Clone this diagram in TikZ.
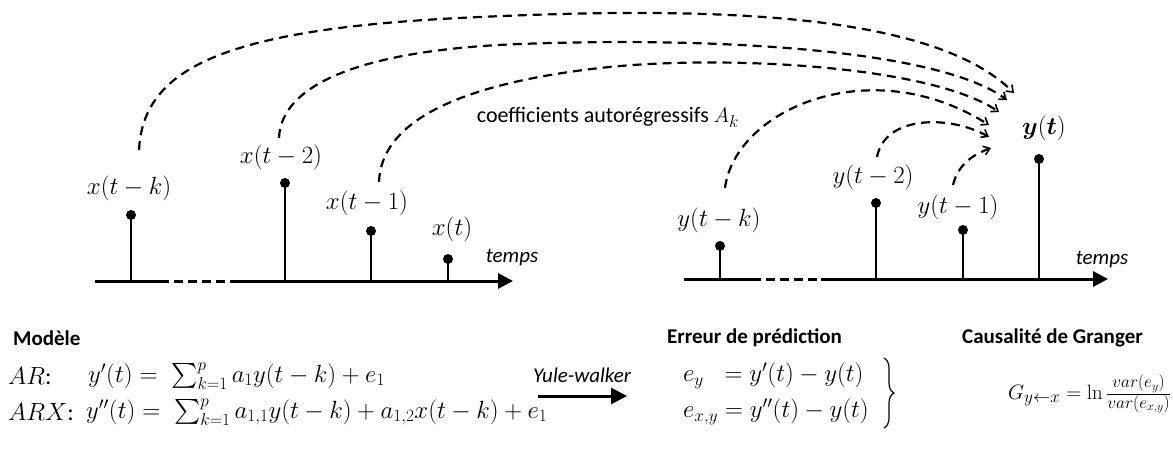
\documentclass[tikz,border=0pt]{standalone}
\usepackage{amsmath}
\usepackage{bm}
\usepackage[no-math]{fontspec}
\setmainfont{Carlito}
\usepackage{tikz}
\usetikzlibrary{arrows.meta,positioning,decorations.pathreplacing,calc}

\DeclareMathSizes{22}{22}{17}{12}

\begin{document}
\begin{tikzpicture}[
  x=1pt, y=-1pt,
  font=\fontsize{23}{27}\selectfont,
  axisline/.style={line width=3pt},
  axisgap/.style={line width=3pt, dash pattern=on 9pt off 5pt},
  stem/.style={line width=2.8pt},
  lagarrow/.style={line width=2.2pt, dash pattern=on 9pt off 6pt, -{Straight Barb[length=6pt,width=9pt,line width=1.6pt]}},
  lbl/.style={inner sep=1pt},
  txt/.style={inner sep=1pt, font=\fontsize{22}{26}\selectfont},
  head/.style={font=\fontsize{21}{25}\selectfont\bfseries, anchor=west, inner sep=0pt},
  eqn/.style={anchor=west, inner sep=0pt, font=\fontsize{24}{28}\selectfont}
]
  \useasboundingbox (0,0) rectangle (1173,452);

  % time axes
  \coordinate (l0) at (95,281);  \coordinate (l1) at (160,281);
  \coordinate (l2) at (238,281); \coordinate (l3) at (513,281);
  \coordinate (r0) at (684,279); \coordinate (r1) at (752,279);
  \coordinate (r2) at (821,279); \coordinate (r3) at (1108,279);
  \draw[axisline] (l0) -- (l1);
  \draw[axisgap] (l1) -- (l2);
  \draw[axisline, -{Triangle[length=15pt,width=15pt]}] (l2) -- (l3);
  \draw[axisline] (r0) -- (r1);
  \draw[axisgap] (r1) -- (r2);
  \draw[axisline, -{Triangle[length=15pt,width=15pt]}] (r2) -- (r3);
  \node[txt, font=\fontsize{21}{25}\selectfont\itshape] (tl) at (512,258) {temps};
  \node[txt, font=\fontsize{21}{25}\selectfont\itshape] (tr) at (1102,260) {temps};

  % samples
  \coordinate (xk) at (131,215); \coordinate (x2) at (285,183);
  \coordinate (x1) at (371,231); \coordinate (x0) at (448,259);
  \coordinate (yk) at (720,246); \coordinate (y2) at (876,203);
  \coordinate (y1) at (963,230); \coordinate (y0) at (1039,159);
  \foreach \s in {xk,x2,x1,x0} {
    \draw[stem] (\s |- l0) -- (\s);
    \fill (\s) circle (5);
  }
  \foreach \s in {yk,y2,y1,y0} {
    \draw[stem] (\s |- r0) -- (\s);
    \fill (\s) circle (5);
  }
  \node[lbl] (lxk) at (129,188) {$x(t-k)$};
  \node[lbl] (lx2) at (281,157) {$x(t-2)$};
  \node[lbl] (lx1) at (367,203) {$x(t-1)$};
  \node[lbl] (lx0) at (452,229) {$x(t)$};
  \node[lbl] (lyk) at (719,220) {$y(t-k)$};
  \node[lbl] (ly2) at (873,177) {$y(t-2)$};
  \node[lbl] (ly1) at (958,207) {$y(t-1)$};
  \node[lbl] (ly0) at (1044,128) {$\bm{y}(\bm{t})$};

  \node[txt] (coef) at (608,117) {coefficients autorégressifs $A_k$};

  % lag arrows towards y(t)
  \coordinate (sxk) at (139,150); \coordinate (exk) at (1014,93);
  \coordinate (sx2) at (279,138); \coordinate (ex2) at (1007,100);
  \coordinate (sx1) at (379,182); \coordinate (ex1) at (999,112);
  \coordinate (syk) at (725,188); \coordinate (eyk) at (989,125);
  \coordinate (sy2) at (877,157); \coordinate (ey2) at (989,137);
  \coordinate (sy1) at (953,185); \coordinate (ey1) at (991,148);
  \draw[lagarrow] (sxk) .. controls (143,70) and (220,30) .. (459,18)
                        .. controls (700,6) and (930,10) .. (exk);
  \draw[lagarrow] (sx2) .. controls (281,85) and (360,50) .. (520,44)
                        .. controls (720,36.5) and (940,50) .. (ex2);
  \draw[lagarrow] (sx1) .. controls (381,125) and (450,85) .. (600,68)
                        .. controls (720,54.4) and (930,65) .. (ex1);
  \draw[lagarrow] (syk) .. controls (735,110) and (870,50) .. (eyk);
  \draw[lagarrow] (sy2) .. controls (885,115) and (950,115) .. (ey2);
  \draw[lagarrow] (sy1) .. controls (958,165) and (972,155) .. (ey1);

  % bottom: models, errors, causality
  \node[head] (modele) at (13,338) {Modèle};
  \node[eqn] (ar) at (8,376) {$AR$:};
  \node[eqn] (areq) at (88,376) {$y'(t) =\; \sum_{k=1}^{p} a_1 y(t-k) + e_1$};
  \node[eqn] (arx) at (8,412) {$ARX$:};
  \node[eqn] (arxeq) at (86,412) {$y''(t) =\; \sum_{k=1}^{p} a_{1,1} y(t-k) + a_{1,2} x(t-k) + e_1$};

  \node[txt, font=\fontsize{21}{25}\selectfont\itshape] (yule) at (582,375) {Yule-walker};
  \coordinate (ya) at (538,396); \coordinate (yb) at (627,396);
  \draw[line width=3pt, -{Triangle[length=16pt,width=16pt]}] (ya) -- (yb);

  \node[head] (erreur) at (667,338) {Erreur de prédiction};
  \node[eqn] (ey) at (683,376) {$e_y\;\; = y'(t) - y(t)$};
  \node[eqn] (exy) at (683,412) {$e_{x,y} = y''(t) - y(t)$};
  \coordinate (bt) at (884,358); \coordinate (bb) at (884,428);
  \draw[line width=1.2pt, decorate, decoration={brace, amplitude=10pt}] (bt) -- (bb);

  \node[head] (granger) at (962,338) {Causalité de Granger};
  \node[eqn, font=\fontsize{22}{26}\selectfont] (gc) at (1008,394)
    {$G_{y\leftarrow x} = \ln \frac{var(e_y)}{var(e_{x,y})}$};
\end{tikzpicture}
\end{document}
